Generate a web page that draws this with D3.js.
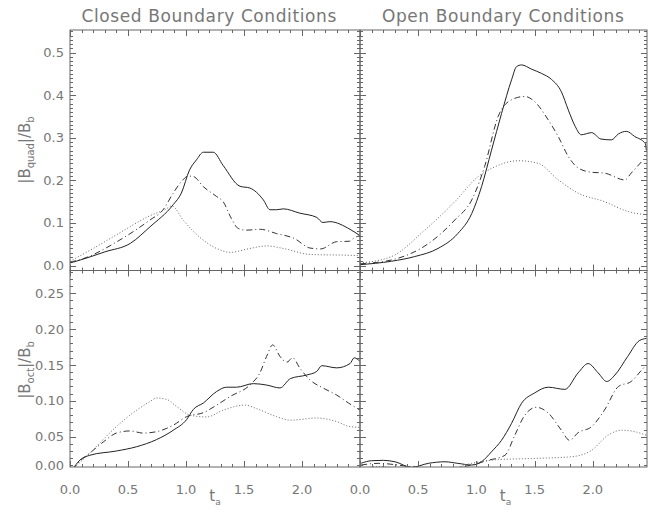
<!DOCTYPE html>
<html><head><meta charset="utf-8">
<script src="https://cdn.jsdelivr.net/npm/d3@7"></script>
<style>
body{margin:0;background:#fff}
text{font-family:"DejaVu Sans",sans-serif;font-weight:normal;fill:#777}
</style></head><body>
<script>
// ---------- data ----------
const titles = ["Closed Boundary Conditions","Open Boundary Conditions"];
const xTicks = [0,0.5,1.0,1.5,2.0];
const yTicksTop = [0,0.1,0.2,0.3,0.4,0.5];
const yTicksBot = [0,0.05,0.10,0.15,0.20,0.25];

// Closed, |B_quad|/B_b
const cqSolid = [[0,0.006],[0.09,0.013],[0.3,0.032],[0.52,0.052],[0.69,0.091],[0.89,0.143],[0.96,0.17],[1.03,0.224],[1.09,0.248],[1.15,0.266],[1.235,0.266],[1.32,0.235],[1.466,0.186],[1.55,0.182],[1.667,0.154],[1.724,0.131],[1.78,0.131],[1.84,0.133],[1.98,0.123],[2.127,0.113],[2.18,0.101],[2.24,0.103],[2.414,0.085],[2.5,0.07]];
const cqDash = [[0,0.008],[0.09,0.014],[0.43,0.06],[0.69,0.107],[0.8,0.13],[0.89,0.17],[0.96,0.197],[1.02,0.21],[1.063,0.209],[1.15,0.185],[1.264,0.162],[1.32,0.15],[1.39,0.111],[1.45,0.087],[1.52,0.083],[1.64,0.085],[1.78,0.075],[1.93,0.064],[2.07,0.041],[2.16,0.039],[2.3,0.056],[2.41,0.057],[2.45,0.065],[2.5,0.07]];
const cqDot = [[0,0.01],[0.2,0.04],[0.4,0.072],[0.69,0.117],[0.83,0.133],[0.876,0.14],[0.98,0.105],[1.12,0.066],[1.264,0.04],[1.38,0.031],[1.55,0.04],[1.695,0.046],[1.84,0.04],[2.07,0.026],[2.41,0.024],[2.5,0.023]];
// Open, |B_quad|/B_b
const oqSolid = [[0,0.002],[0.27,0.01],[0.47,0.021],[0.67,0.04],[0.84,0.075],[0.96,0.122],[1.044,0.185],[1.13,0.271],[1.216,0.357],[1.302,0.436],[1.345,0.467],[1.388,0.471],[1.474,0.461],[1.56,0.451],[1.645,0.437],[1.73,0.408],[1.79,0.365],[1.85,0.326],[1.9,0.307],[1.99,0.312],[2.07,0.297],[2.16,0.295],[2.22,0.309],[2.29,0.315],[2.36,0.303],[2.45,0.287],[2.46,0.27]];
const oqDash = [[0,0.004],[0.3,0.015],[0.59,0.052],[0.815,0.107],[0.96,0.154],[1.07,0.232],[1.187,0.35],[1.3,0.389],[1.416,0.397],[1.5,0.385],[1.617,0.342],[1.703,0.303],[1.79,0.256],[1.874,0.229],[1.99,0.219],[2.1,0.217],[2.275,0.201],[2.33,0.217],[2.42,0.244],[2.46,0.256]];
const oqDot = [[0,0.006],[0.27,0.021],[0.56,0.084],[0.815,0.15],[1.016,0.209],[1.13,0.228],[1.36,0.246],[1.53,0.24],[1.703,0.201],[1.874,0.17],[2.1,0.15],[2.3,0.127],[2.46,0.119]];
// Closed, |B_oct|/B_b
const coSolid = [[0.02,0.004],[0.086,0.0174],[0.17,0.024],[0.4,0.03],[0.575,0.036],[0.747,0.046],[0.89,0.059],[1.006,0.074],[1.063,0.088],[1.15,0.097],[1.264,0.113],[1.35,0.119],[1.436,0.119],[1.58,0.124],[1.695,0.122],[1.81,0.118],[1.9,0.131],[2.04,0.136],[2.127,0.141],[2.17,0.149],[2.3,0.146],[2.414,0.152],[2.45,0.16],[2.5,0.155]];
const coDash = [[0.02,0.004],[0.086,0.016],[0.17,0.027],[0.29,0.043],[0.4,0.055],[0.517,0.058],[0.632,0.055],[0.747,0.057],[0.89,0.066],[1.006,0.078],[1.15,0.0835],[1.264,0.094],[1.38,0.106],[1.55,0.122],[1.637,0.139],[1.695,0.162],[1.747,0.178],[1.81,0.162],[1.87,0.154],[1.92,0.16],[1.98,0.146],[2.07,0.129],[2.18,0.118],[2.3,0.108],[2.4,0.097],[2.5,0.087]];
const coDot = [[0.02,0.004],[0.17,0.027],[0.4,0.064],[0.575,0.087],[0.69,0.099],[0.747,0.104],[0.833,0.102],[0.92,0.092],[1.035,0.08],[1.178,0.0775],[1.32,0.087],[1.51,0.094],[1.61,0.089],[1.78,0.078],[1.9,0.073],[2.127,0.076],[2.3,0.071],[2.414,0.064],[2.5,0.063]];
// Open, |B_oct|/B_b
const ooSolid = [[0.01,0.013],[0.1,0.0165],[0.2,0.017],[0.3,0.015],[0.443,0.0072],[0.587,0.0128],[0.73,0.015],[0.84,0.0128],[0.96,0.0105],[1.044,0.015],[1.13,0.029],[1.216,0.045],[1.302,0.0686],[1.388,0.0966],[1.5,0.111],[1.617,0.119],[1.76,0.116],[1.874,0.139],[1.96,0.152],[2.046,0.139],[2.12,0.127],[2.19,0.136],[2.3,0.162],[2.4,0.184],[2.46,0.187]];
const ooDash = [[0.01,0.0105],[0.157,0.0128],[0.443,0.0082],[0.73,0.006],[0.96,0.0105],[1.1,0.017],[1.245,0.024],[1.33,0.052],[1.416,0.08],[1.516,0.091],[1.617,0.083],[1.73,0.059],[1.8,0.045],[1.874,0.0556],[1.99,0.064],[2.1,0.087],[2.22,0.12],[2.33,0.127],[2.42,0.143],[2.46,0.15]];
const ooDot = [[0.01,0.006],[0.157,0.0082],[0.443,0.0045],[0.73,0.0035],[0.96,0.0128],[1.187,0.018],[1.47,0.0195],[1.816,0.022],[1.99,0.031],[2.13,0.052],[2.25,0.059],[2.36,0.057],[2.46,0.052]];

// ---------- layout ----------
const W=649,H=515;
const svg=d3.select("body").append("svg").attr("width",W).attr("height",H);
const axisCol="#666";
const xL=d3.scaleLinear().domain([0,2.5]).range([70,360]);
const xR=d3.scaleLinear().domain([0,2.5]).range([360,651]);
const yT=d3.scaleLinear().domain([-0.0117,0.553]).range([270.5,30]);
const yB=d3.scaleLinear().domain([0.0077,0.2818]).range([467,270.5]);

const panels=[
 {x:xL,y:yT,x0:70,x1:360,series:[cqSolid,cqDash,cqDot],yt:yTicksTop,minor:0.01,fmt:d3.format(".1f"),lab:true},
 {x:xR,y:yT,x0:360,x1:647,series:[oqSolid,oqDash,oqDot],yt:yTicksTop,minor:0.01,fmt:d3.format(".1f"),lab:false},
 {x:xL,y:yB,x0:70,x1:360,series:[coSolid,coDash,coDot],yt:yTicksBot,minor:0.01,fmt:d3.format(".2f"),lab:true,bottom:true},
 {x:xR,y:yB,x0:360,x1:647,series:[ooSolid,ooDash,ooDot],yt:yTicksBot,minor:0.01,fmt:d3.format(".2f"),lab:false,bottom:true}
];
const styles=[
 {c:"#222",d:null},
 {c:"#333",d:"6,3,1,3"},
 {c:"#666",d:"1,2"}
];

panels.forEach((p,i)=>{
  const yTop=p.y.range()[1], yBot=p.y.range()[0];
  const g=svg.append("g");
  const cid="clip"+i;
  svg.append("clipPath").attr("id",cid).append("rect")
    .attr("x",p.x0).attr("y",yTop).attr("width",p.x1-p.x0).attr("height",yBot-yTop);
  const line=d3.line().x(d=>p.x(d[0])).y(d=>p.y(d[1])).curve(d3.curveMonotoneX);
  p.series.forEach((s,k)=>{
    g.append("path").attr("d",line(s)).attr("fill","none")
     .attr("stroke",styles[k].c).attr("stroke-width",1)
     .attr("stroke-dasharray",styles[k].d).attr("clip-path",`url(#${cid})`);
  });
  g.append("rect").attr("x",p.x0).attr("y",yTop).attr("width",p.x1-p.x0).attr("height",yBot-yTop)
   .attr("fill","none").attr("stroke",axisCol).attr("stroke-width",1);
  const xmin=d3.range(0,2.51,0.1).filter(v=>p.x(v)<=p.x1+0.5);
  xmin.forEach(v=>{
    const major=Math.abs(v*2-Math.round(v*2))<1e-6;
    const L=major?6:3;
    const xx=Math.round(p.x(v))+0.5;
    g.append("line").attr("x1",xx).attr("x2",xx).attr("y1",yBot).attr("y2",yBot-L).attr("stroke",axisCol);
    g.append("line").attr("x1",xx).attr("x2",xx).attr("y1",yTop).attr("y2",yTop+L).attr("stroke",axisCol);
  });
  const dom=p.y.domain();
  const yminor=d3.range(0,dom[1]+1e-9,p.minor).filter(v=>v>=dom[0]-1e-9);
  const step=p.yt[1]-p.yt[0];
  yminor.forEach(v=>{
    const major=Math.abs(v/step-Math.round(v/step))<1e-6;
    const L=major?6:3;
    const yy=Math.round(p.y(v))+0.5;
    g.append("line").attr("x1",p.x0).attr("x2",p.x0+L).attr("y1",yy).attr("y2",yy).attr("stroke",axisCol);
    g.append("line").attr("x1",p.x1).attr("x2",p.x1-L).attr("y1",yy).attr("y2",yy).attr("stroke",axisCol);
  });
  if(p.lab){
    p.yt.forEach(v=>{
      const yy=Math.min(p.y(v),yBot-2);
      g.append("text").attr("x",p.x0-6).attr("y",yy).attr("dy","0.35em")
       .attr("text-anchor","end").attr("font-size",13).text(p.fmt(v));
    });
  }
  if(p.bottom){
    xTicks.forEach(v=>{
      g.append("text").attr("x",p.x(v)).attr("y",yBot+27).attr("text-anchor","middle")
       .attr("font-size",13).text(d3.format(".1f")(v));
    });
    const t=g.append("text").attr("x",p.x(1.25))
      .attr("y",yBot+34).attr("text-anchor","middle").attr("font-size",15);
    t.append("tspan").text("t");
    t.append("tspan").attr("font-size",9).attr("dy",4).text("a");
  }
});

svg.append("text").attr("x",xL(1.2)).attr("y",22).attr("text-anchor","middle").attr("font-size",17)
 .attr("letter-spacing",0.6).text(titles[0]);
svg.append("text").attr("x",xR(1.23)).attr("y",22).attr("text-anchor","middle").attr("font-size",17)
 .attr("letter-spacing",0.6).text(titles[1]);

function ylab(cx,cy,sub){
  const t=svg.append("text").attr("transform",`translate(${cx},${cy}) rotate(-90)`)
   .attr("text-anchor","middle").attr("font-size",15);
  t.append("tspan").text("|B");
  t.append("tspan").attr("font-size",10).attr("dy",4).text(sub);
  t.append("tspan").attr("dy",-4).text("|/B");
  t.append("tspan").attr("font-size",10).attr("dy",4).text("b");
}
ylab(30,150,"quad");
ylab(30,370,"oct");
</script>
</body></html>
